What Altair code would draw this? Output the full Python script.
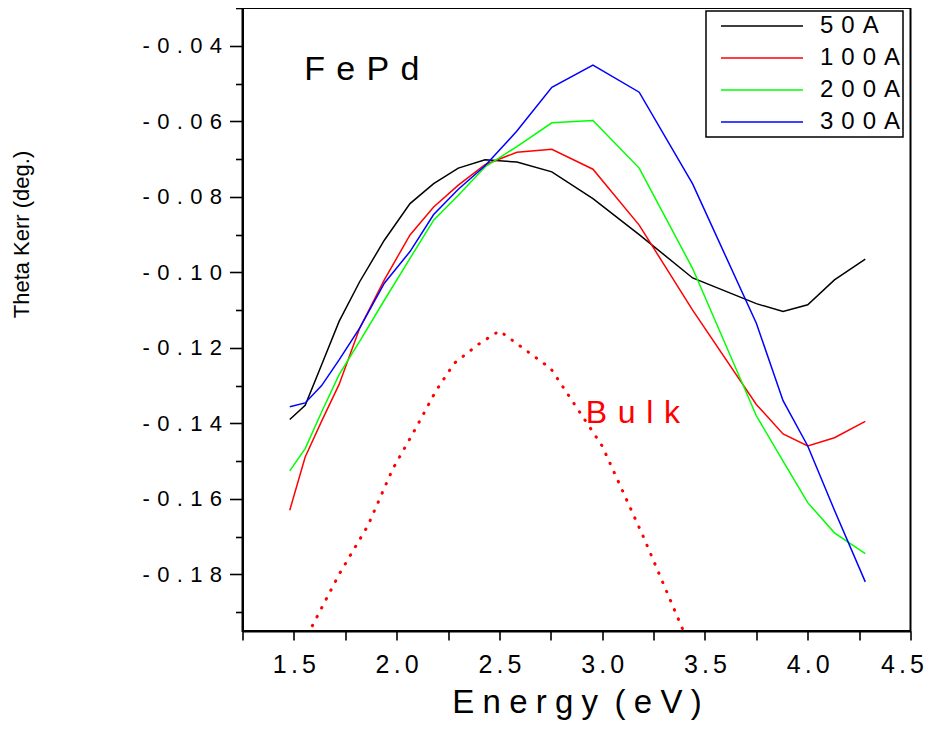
import altair as alt
import pandas as pd

# ---- data ----
energy = [1.48, 1.555, 1.635, 1.72, 1.82, 1.94, 2.065, 2.18, 2.30, 2.43,
          2.585, 2.755, 2.955, 3.18, 3.44, 3.75, 3.88, 4.0, 4.13, 4.28]
kerr_50 = [-0.139, -0.1352, -0.1245, -0.1130, -0.1025, -0.0915, -0.0818, -0.0765, -0.0724, -0.0702,
           -0.0708, -0.0734, -0.0805, -0.0900, -0.1015, -0.1083, -0.1104, -0.1086, -0.1020, -0.0965]
kerr_100 = [-0.163, -0.1489, -0.1394, -0.1297, -0.1148, -0.1020, -0.0901, -0.0827, -0.0769, -0.0715,
            -0.0682, -0.0674, -0.0727, -0.0875, -0.1100, -0.1350, -0.1428, -0.1460, -0.1438, -0.1395]
kerr_200 = [-0.1526, -0.1467, -0.1370, -0.1271, -0.1183, -0.1074, -0.0963, -0.0862, -0.0796, -0.0721,
            -0.0667, -0.0604, -0.0598, -0.0724, -0.0990, -0.1380, -0.1500, -0.1610, -0.1690, -0.1745]
kerr_300 = [-0.1356, -0.1346, -0.1300, -0.1232, -0.1148, -0.1029, -0.0945, -0.0847, -0.0780, -0.0718,
            -0.0626, -0.0510, -0.0451, -0.0523, -0.0766, -0.1135, -0.1340, -0.1460, -0.1630, -0.1820]
series = ["50A", "100A", "200A", "300A"]
colors = ["#000000", "#ff0000", "#00ff00", "#0000ff"]

bulk_energy = [1.50, 1.72, 1.86, 1.98, 2.09, 2.19, 2.28, 2.40, 2.50, 2.75, 3.00, 3.20, 3.45]
bulk_kerr = [-0.203, -0.180, -0.1671, -0.1522, -0.1416, -0.1315, -0.1241, -0.119, -0.1155,
             -0.1255, -0.146, -0.170, -0.202]

x_ticks = [1.25 + 0.25 * i for i in range(14)]
y_major = [round(-0.18 + 0.02 * i, 2) for i in range(8)]
y_minor = [round(-0.19 + 0.02 * i, 2) for i in range(9)]

rows = []
for name, vals in zip(series, [kerr_50, kerr_100, kerr_200, kerr_300]):
    for e, v in zip(energy, vals):
        rows.append({"energy": e, "kerr": v, "series": name})
df = pd.DataFrame(rows)
bulk_df = pd.DataFrame({"energy": bulk_energy, "kerr": bulk_kerr})

SANS = "Liberation Sans, Arial, sans-serif"
SP3 = "\u2004"   # 1/3 em
SP4 = "\u2005"   # 1/4 em
SP6 = "\u2006"   # 1/6 em


def spaced(s, sp):
    return sp.join(list(s))


xscale = alt.Scale(domain=[1.25, 4.5], nice=False, zero=False)
yscale = alt.Scale(domain=[-0.195, -0.03], nice=False, zero=False)

x_axis = alt.Axis(
    values=x_ticks,
    labelExpr="(abs(datum.value*2 - round(datum.value*2)) < 0.01) ? join(split(format(datum.value,'.1f'),''),'" + SP6 + "') : ''",
    tickSize=9, labelPadding=12, labelFont=SANS, labelFontSize=25,
    labelOverlap=False, labelFlush=True, labelFlushOffset=13,
    title="E" + SP4 + "n" + SP4 + "e" + SP4 + "r" + SP4 + "g" + SP4 + "y" + SP4 + SP4 + "(" + SP4 + "e" + SP4 + "V" + SP4 + ")",
    titleFont=SANS, titleFontSize=33, titleFontWeight="normal",
    titleBaseline="alphabetic", titleY=81,
)
y_axis_major = alt.Axis(
    orient="left",
    values=y_major,
    labelExpr="join(split(replace(format(datum.value,'.2f'),'\u2212','-'),''),'" + SP3 + "')",
    tickSize=13, labelPadding=8, labelFont=SANS, labelFontSize=22,
    labelOverlap=False, labelFlush=False,
    title="Theta Kerr (deg.)", titleFont=SANS, titleFontSize=22, titleFontWeight="normal",
    titleAngle=270, titleBaseline="middle", titleAlign="center", titleX=-221, titleY=226,
)
y_axis_minor = alt.Axis(
    orient="left", values=y_minor, tickSize=7, labels=False, title=None, domain=False,
)

bulk = alt.Chart(bulk_df).mark_line(
    color="#ff0000", strokeDash=[0.5, 9.5], strokeCap="round", strokeWidth=3, clip=True
).encode(
    x=alt.X("energy:Q", scale=xscale, axis=x_axis),
    y=alt.Y("kerr:Q", scale=yscale, axis=y_axis_minor),
)

lines = alt.Chart(df).mark_line(strokeWidth=1.5).encode(
    x=alt.X("energy:Q", scale=xscale, axis=x_axis),
    y=alt.Y("kerr:Q", scale=yscale, axis=y_axis_major),
    color=alt.Color(
        "series:N",
        scale=alt.Scale(domain=series, range=colors),
        legend=alt.Legend(
            title=None, orient="none", legendX=463.5, legendY=3,
            symbolType="stroke", symbolSize=6724, symbolStrokeWidth=1.5,
            symbolOffset=12, clipHeight=26, rowPadding=6, padding=2,
            labelFont=SANS, labelFontSize=24, labelOffset=16,
            labelExpr="join(split(datum.label,''),'" + SP3 + "') + '" + SP3 + SP3 + SP3 + SP4 + "'",
            strokeColor="black", fillColor="white",
        ),
    ),
    detail="series:N",
)

fepd = alt.Chart().mark_text(
    text=spaced("FePd", SP3), font=SANS, fontSize=34, align="left",
    baseline="alphabetic", color="black"
).encode(x=alt.datum(1.55),
         y=alt.YDatum(-0.0491, scale=yscale, axis=None))

bulk_label = alt.Chart().mark_text(
    text=spaced("Bulk", SP3), font=SANS, fontSize=32, align="left",
    baseline="alphabetic", color="#ff0000"
).encode(x=alt.datum(2.92),
         y=alt.YDatum(-0.1399, scale=yscale, axis=None))

chart = alt.layer(bulk, lines, fepd, bulk_label).resolve_axis(
    y="independent"
).properties(
    width=668, height=623,
    autosize=alt.AutoSizeParams(type="none"),
    padding={"left": 234.5, "top": 0, "right": 14, "bottom": 90},
).configure_view(
    stroke="black", strokeWidth=2
).configure_axis(
    domainColor="black", domainWidth=2, tickColor="black", tickWidth=1.6,
    labelColor="black", titleColor="black", grid=False,
).configure_legend(
    strokeWidth=1.5
)

chart.save("out.html", embed_options={"renderer": "svg", "actions": False})
